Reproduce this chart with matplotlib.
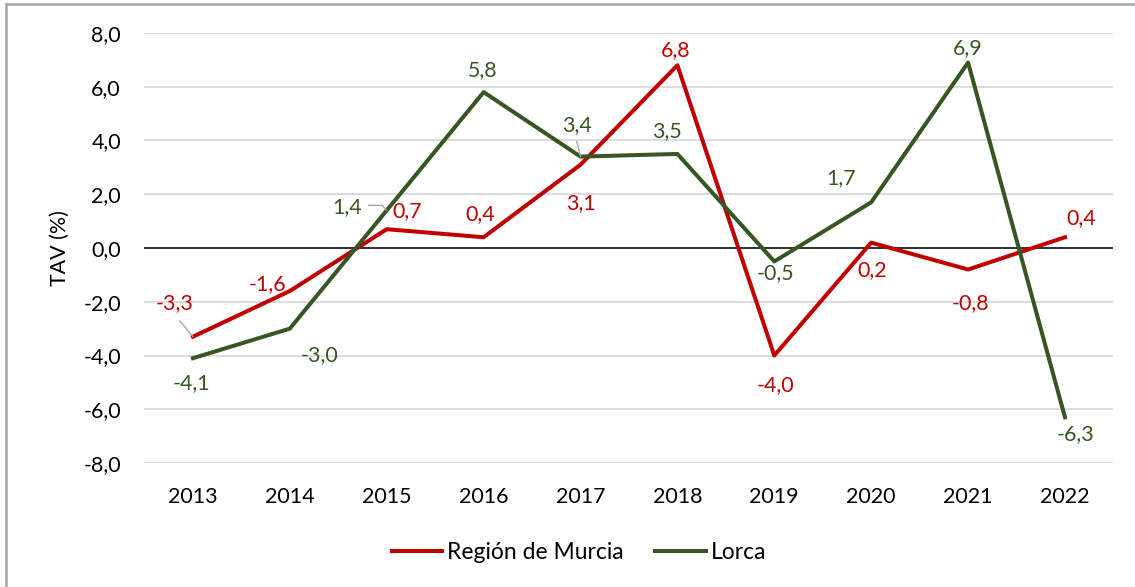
import matplotlib.pyplot as plt
from matplotlib.lines import Line2D
from matplotlib.ticker import FuncFormatter, MultipleLocator

plt.rcParams['font.family'] = ['Lato', 'DejaVu Sans']

years = [2013, 2014, 2015, 2016, 2017, 2018, 2019, 2020, 2021, 2022]
murcia = [-3.3, -1.6, 0.7, 0.4, 3.1, 6.8, -4.0, 0.2, -0.8, 0.4]
lorca = [-4.1, -3.0, 1.4, 5.8, 3.4, 3.5, -0.5, 1.7, 6.9, -6.3]

red = '#C00000'
green = '#375623'
fs = 15.4

# label offsets in pixels (label centre minus point)
murcia_off = [(-18, 34), (-22, 7), (20, 18), (-3, 23), (0, -38),
              (-2, 15), (1, -30), (1, -27), (2, -34), (16, 19)]
lorca_off = [(-1, -25), (30, -26), (-40, 3), (-1, 22), (-4, 32),
             (-10, 23), (1, -12), (-30, 24), (0, 14), (11, -17)]


def fmt(v):
    return f"{v:.1f}".replace('.', ',')


fig = plt.figure(figsize=(11.35, 5.87), dpi=100)
ax = fig.add_axes([0.1273, 0.2112, 0.8537, 0.7326])

x = list(range(len(years)))
ax.plot(x, murcia, color=red, lw=2.9, label='Región de Murcia', zorder=3)
ax.plot(x, lorca, color=green, lw=2.9, label='Lorca', zorder=3)

ax.set_xlim(-0.5, len(years) - 0.5)
ax.set_ylim(-8, 8)
ax.yaxis.set_major_locator(MultipleLocator(2))
ax.yaxis.set_major_formatter(FuncFormatter(lambda v, p: fmt(v)))
ax.set_xticks(x, [str(y) for y in years])
ax.grid(axis='y', color='#D9D9D9', lw=1.3, zorder=0)
ax.axhline(0, color='black', lw=1.1, zorder=2)
for s in ax.spines.values():
    s.set_visible(False)
ax.tick_params(length=0, labelsize=fs)
ax.tick_params(axis='y', pad=17)
ax.tick_params(axis='x', pad=17)
ax.set_ylabel('TAV (%)', fontsize=fs, labelpad=10)

leader = dict(arrowstyle='-', color='#A6A6A6', lw=1.0, shrinkB=0)

for i, (v, off) in enumerate(zip(murcia, murcia_off)):
    kw = {}
    if i == 0:
        kw['arrowprops'] = dict(leader, relpos=(0.45, 0.0), shrinkA=5)
    ax.annotate(fmt(v), (i, v), xytext=off, textcoords='offset pixels',
                ha='center', va='center', color=red, fontsize=fs, zorder=4, **kw)

for i, (v, off) in enumerate(zip(lorca, lorca_off)):
    kw = {}
    if i == 2:
        kw['arrowprops'] = dict(leader, relpos=(1.0, 0.6), shrinkA=3,
                                connectionstyle='angle,angleA=0,angleB=132,rad=0')
    if i == 4:
        kw['arrowprops'] = dict(leader, relpos=(0.45, 0.0), shrinkA=3)
    ax.annotate(fmt(v), (i, v), xytext=off, textcoords='offset pixels',
                ha='center', va='center', color=green, fontsize=fs, zorder=4, **kw)

fig.legend(loc='center', bbox_to_anchor=(0.51, 0.058), ncol=2, frameon=False,
           fontsize=16.5, handlelength=2.2, handletextpad=0.2, columnspacing=1.4)

# outer chart border (left and top edges visible)
fig.add_artist(Line2D([6 / 1135, 6 / 1135], [0, 1 - 3.5 / 587], color='#A6A6A6', lw=1.8))
fig.add_artist(Line2D([6 / 1135, 1], [1 - 3.5 / 587, 1 - 3.5 / 587], color='#A6A6A6', lw=1.8))

fig.savefig('out.png', dpi=100)
